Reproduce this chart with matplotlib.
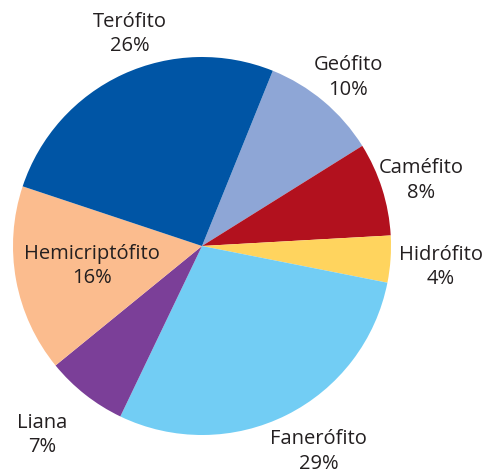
import matplotlib
matplotlib.use("Agg")
import matplotlib.pyplot as plt
import numpy as np

# clockwise from the Terófito/Geófito boundary
categories = ["Geófito", "Caméfito", "Hidrófito", "Fanerófito", "Liana", "Hemicriptófito", "Terófito"]
shares = [10, 8, 4, 29, 7, 16, 26]
colors = ["#8ea6d6", "#b2111e", "#ffd45e", "#72cdf4", "#7b3f98", "#fbbc8e", "#0055a5"]
label_dist = [1.18, 1.21, 1.27, 1.25, 1.31, 0.59, 1.185]
label_turn = [-1, -1, -1, 3, -2, 0, -6]

plt.rcParams["font.family"] = ["Open Sans", "DejaVu Sans"]

fig = plt.figure(figsize=(4.87, 4.76), dpi=100, facecolor="white")
ax = fig.add_axes([0, 0, 1, 1])
wedges, _ = ax.pie(shares, colors=colors, startangle=68, counterclock=False,
                   radius=1, wedgeprops=dict(linewidth=0))

for w, name, pct, d, t in zip(wedges, categories, shares, label_dist, label_turn):
    mid = np.deg2rad((w.theta1 + w.theta2) / 2 + t)
    ax.text(d * np.cos(mid), d * np.sin(mid), f"{name}\n{pct}%",
            ha="center", va="center", fontsize=14.5, color="#231f20",
            linespacing=1.3)

# center at (202, 246) px, radius ~189 px
r = 189
ax.set_xlim(-202 / r, (487 - 202) / r)
ax.set_ylim(-(476 - 246) / r, 246 / r)
ax.set_aspect("auto")
ax.axis("off")

fig.savefig("out.png", dpi=100, facecolor="white")
